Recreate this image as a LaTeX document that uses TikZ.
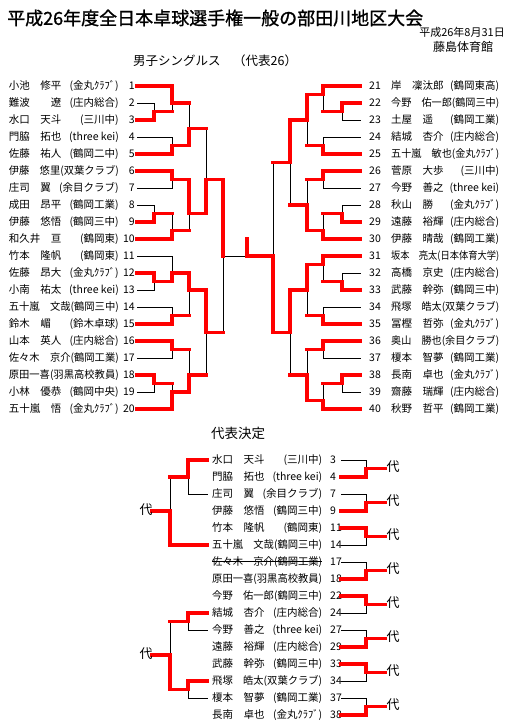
\documentclass[tikz,border=0pt]{standalone}
\usepackage{fontspec}
\usepackage{graphicx}
\setmainfont{Noto Sans CJK JP}
\newfontfamily\titlefont[FakeBold=1.2]{Noto Sans CJK JP}
\pgfdeclarelayer{bg}
\pgfsetlayers{bg,main}
\tikzset{
  ln/.style={black, line width=1pt, line cap=rect},
  wn/.style={red, line width=3.5pt, line cap=rect},
  txt/.style={inner sep=0pt, font=\fontsize{10.5}{12}\selectfont},
  dai/.style={inner sep=0pt, font=\fontsize{13}{14}\selectfont}
}
\newcommand\entrybox[3]{\setbox0\hbox{#1#2}\ifdim\wd0>#3\relax\resizebox{#3}{\height}{#1#2}\else\makebox[#3]{#1\hfill#2}\fi}
\newcommand\hy[1]{86+8.5*(#1)}
% jx, htop, hbot, hout, tox, winner(t/b)
\newcommand\mtch[6]{%
 \if#6t
  \begin{pgfonlayer}{bg}\draw[ln] (#1,{\hy{#4}}) -- (#1,{\hy{#3}});\end{pgfonlayer}
  \draw[wn] (#1,{\hy{#2}}) -- (#1,{\hy{#4}}) -- (#5,{\hy{#4}});
 \else
  \begin{pgfonlayer}{bg}\draw[ln] (#1,{\hy{#2}}) -- (#1,{\hy{#4}});\end{pgfonlayer}
  \draw[wn] (#1,{\hy{#3}}) -- (#1,{\hy{#4}}) -- (#5,{\hy{#4}});
 \fi}
% pair in the decision bracket: k (top row index), winner t/b
\newcommand\dpair[2]{%
 \if#2t
  \begin{pgfonlayer}{bg}\draw[ln] (341,{460+17*(#1+1)}) -- (366,{460+17*(#1+1)}) -- (366,{468.5+17*#1});\end{pgfonlayer}
  \draw[wn] (341,{460+17*#1}) -- (366,{460+17*#1}) -- (366,{468.5+17*#1}) -- (385,{468.5+17*#1});
 \else
  \begin{pgfonlayer}{bg}\draw[ln] (341,{460+17*#1}) -- (366,{460+17*#1}) -- (366,{468.5+17*#1});\end{pgfonlayer}
  \draw[wn] (341,{460+17*(#1+1)}) -- (366,{460+17*(#1+1)}) -- (366,{468.5+17*#1}) -- (385,{468.5+17*#1});
 \fi
 \node[dai] (dai#1) at (393,{467+17*#1}) {代};}
\begin{document}
\begin{tikzpicture}[x=1pt,y=-1pt]
\useasboundingbox (0,0) rectangle (522,728);
% headings
\node[inner sep=0pt, anchor=west, font=\titlefont\fontsize{18}{20}\selectfont] (title) at (7,18) {平成26年度全日本卓球選手権一般の部田川地区大会};
\node[inner sep=0pt, anchor=east, font=\fontsize{11}{12}\selectfont] (date) at (505,32) {平成26年8月31日};
\node[inner sep=0pt, font=\fontsize{12}{13}\selectfont] (venue) at (463,47) {藤島体育館};
\node[inner sep=0pt, anchor=west, font=\fontsize{12.5}{14}\selectfont] (event) at (133,61) {男子シングルス　（代表26）};
\node[inner sep=0pt, anchor=west, font=\fontsize{13.5}{15}\selectfont] (dec) at (211,433) {代表決定};
% left entries
\foreach \i/\a/\b in {1/小池　修平/(金丸ｸﾗﾌﾞ),2/難波　　遼/(庄内総合),3/水口　天斗/(三川中),4/門脇　拓也/(three kei),5/佐藤　祐人/(鶴岡二中),6/伊藤　悠里/(双葉クラブ),7/庄司　翼/(余目クラブ),8/成田　昂平/(鶴岡工業),9/伊藤　悠悟/(鶴岡三中),10/和久井　亘/(鶴岡東),11/竹本　隆帆/(鶴岡東),12/佐藤　昂大/(金丸ｸﾗﾌﾞ),13/小南　祐太/(three kei),14/五十嵐　文哉/(鶴岡三中),15/鈴木　嵋/(鈴木卓球),16/山本　英人/(庄内総合),17/佐々木　京介/(鶴岡工業),18/原田一喜/(羽黒高校教員),19/小林　優恭/(鶴岡中央),20/五十嵐　悟/(金丸ｸﾗﾌﾞ)}
  {\node[txt, anchor=east] (L\i) at (135,{86+17*(\i-1)}) {\entrybox{\a}{\b}{110pt}\makebox[16pt][r]{\i}};}
% right entries
\foreach \i/\a/\b in {21/岸　凜汰郎/(鶴岡東高),22/今野　佑一郎/(鶴岡三中),23/土屋　遥/(鶴岡工業),24/結城　杏介/(庄内総合),25/五十嵐　敏也/(金丸ｸﾗﾌﾞ),26/菅原　大歩/(三川中),27/今野　善之/(three kei),28/秋山　勝/(金丸ｸﾗﾌﾞ),29/遠藤　裕輝/(庄内総合),30/伊藤　晴哉/(鶴岡工業),31/坂本　亮太/(日本体育大学),32/高橋　京史/(庄内総合),33/武藤　幹弥/(鶴岡三中),34/飛塚　皓太/(双葉クラブ),35/冨樫　哲弥/(金丸ｸﾗﾌﾞ),36/奥山　勝也/(余目クラブ),37/榎本　智夢/(鶴岡工業),38/長南　卓也/(金丸ｸﾗﾌﾞ),39/齋藤　瑞輝/(庄内総合),40/秋野　哲平/(鶴岡工業)}
  {\node[txt, anchor=west] (R\i) at (369,{86+17*(\i-21)}) {\makebox[22pt][l]{\i}\entrybox{\a}{\b}{108pt}};}
% entry lines
\begin{pgfonlayer}{bg}
\foreach \i/\x in {2/154,4/172,7/172,8/154,11/172,13/154,14/172,17/172,19/154}
  {\draw[ln] (137,{86+17*(\i-1)}) -- (\x,{86+17*(\i-1)});}
\foreach \i/\x in {23/342,24/323,27/323,28/342,32/342,34/323,37/323,39/342}
  {\draw[ln] (360,{86+17*(\i-21)}) -- (\x,{86+17*(\i-21)});}
\end{pgfonlayer}
\foreach \i/\x in {1/172,3/154,5/172,6/172,9/154,10/172,12/154,15/172,16/172,18/154,20/172}
  {\draw[wn] (137,{86+17*(\i-1)}) -- (\x,{86+17*(\i-1)});}
\foreach \i/\x in {21/323,22/342,25/323,26/323,29/342,30/323,31/323,33/342,35/323,36/323,38/342,40/323}
  {\draw[wn] (360,{86+17*(\i-21)}) -- (\x,{86+17*(\i-21)});}
% left bracket
\mtch{154}{2}{4}{3}{172}{b}
\mtch{172}{0}{3}{2}{189}{t}
\mtch{172}{6}{8}{7}{189}{b}
\mtch{189}{2}{7}{5}{206}{b}
\mtch{172}{10}{12}{11}{189}{t}
\mtch{154}{14}{16}{15}{172}{b}
\mtch{172}{15}{18}{17}{189}{b}
\mtch{189}{11}{17}{15}{206}{t}
\mtch{206}{5}{15}{11}{223}{b}
\mtch{154}{22}{24}{23}{172}{t}
\mtch{172}{20}{23}{22}{189}{b}
\mtch{172}{26}{28}{27}{189}{b}
\mtch{189}{22}{27}{24}{206}{t}
\mtch{172}{30}{32}{31}{189}{t}
\mtch{154}{34}{36}{35}{172}{t}
\mtch{172}{35}{38}{36}{189}{b}
\mtch{189}{31}{36}{34}{206}{b}
\mtch{206}{24}{34}{29}{223}{t}
% right bracket
\mtch{342}{2}{4}{3}{323}{t}
\mtch{323}{0}{3}{1}{307}{t}
\mtch{323}{6}{8}{7}{307}{b}
\mtch{307}{1}{7}{4}{290}{t}
\mtch{323}{10}{12}{11}{307}{t}
\mtch{342}{14}{16}{15}{323}{b}
\mtch{323}{15}{18}{17}{307}{b}
\mtch{307}{11}{17}{14}{290}{b}
\mtch{290}{4}{14}{9}{273}{t}
\mtch{342}{22}{24}{23}{323}{b}
\mtch{323}{20}{23}{21}{307}{t}
\mtch{323}{26}{28}{27}{307}{b}
\mtch{307}{21}{27}{24}{290}{t}
\mtch{323}{30}{32}{31}{307}{t}
\mtch{342}{34}{36}{35}{323}{t}
\mtch{323}{35}{38}{37}{307}{b}
\mtch{307}{31}{37}{34}{290}{b}
\mtch{290}{24}{34}{29}{273}{t}
\mtch{273}{9}{29}{20}{247}{b}
% left semifinal and final
\begin{pgfonlayer}{bg}
\draw[ln] (223,{\hy{20}}) -- (223,{\hy{29}});
\draw[ln] (223,{\hy{20}}) -- (247,{\hy{20}});
\end{pgfonlayer}
\draw[wn] (223,{\hy{11}}) -- (223,{\hy{20}});
\coordinate (champ) at (247,{\hy{18}});
\draw[wn] (247,{\hy{20}}) -- (champ);
% decision section entries
\foreach \k/\n/\a/\b in {0/3/水口　天斗/(三川中),1/4/門脇　拓也/(three kei),2/7/庄司　翼/(余目クラブ),3/9/伊藤　悠悟/(鶴岡三中),4/11/竹本　隆帆/(鶴岡東),5/14/五十嵐　文哉/(鶴岡三中),7/18/原田一喜/(羽黒高校教員),8/22/今野　佑一郎/(鶴岡三中),9/24/結城　杏介/(庄内総合),10/27/今野　善之/(three kei),11/29/遠藤　裕輝/(庄内総合),12/33/武藤　幹弥/(鶴岡三中),13/34/飛塚　皓太/(双葉クラブ),14/37/榎本　智夢/(鶴岡工業),15/38/長南　卓也/(金丸ｸﾗﾌﾞ)}
  {\node[txt, anchor=west] (D\n) at (212,{460+17*\k}) {\entrybox{\a}{\b}{110pt}\hspace{8pt}\n};}
\node[txt, anchor=west] (D17) at (212,562) {\rlap{\rule[0.33em]{110pt}{0.7pt}}\entrybox{佐々木　京介}{(鶴岡工業)}{110pt}\hspace{8pt}17};
% decision pairs
\dpair{0}{b}
\dpair{2}{b}
\dpair{4}{t}
\dpair{6}{b}
\dpair{8}{t}
\dpair{10}{b}
\dpair{12}{t}
\dpair{14}{b}
% decision left brackets
\begin{pgfonlayer}{bg}
\draw[ln] (207,494) -- (188,494) -- (188,477);
\draw[ln] (170,477) -- (170,511);
\draw[ln] (207,630) -- (188,630) -- (188,621.5);
\draw[ln] (207,698) -- (188,698) -- (188,689.5);
\draw[ln] (170,621.5) -- (170,655);
\end{pgfonlayer}
\draw[wn] (207,460) -- (188,460) -- (188,477) -- (170,477);
\draw[wn] (207,545) -- (170,545) -- (170,511) -- (152,511);
\node[dai] (daiA) at (146,510) {代};
\draw[wn] (207,613) -- (188,613) -- (188,621.5) -- (170,621.5);
\draw[wn] (207,681) -- (188,681) -- (188,689.5) -- (170,689.5) -- (170,655) -- (152,655);
\node[dai] (daiB) at (146,654) {代};
\end{tikzpicture}
\end{document}
